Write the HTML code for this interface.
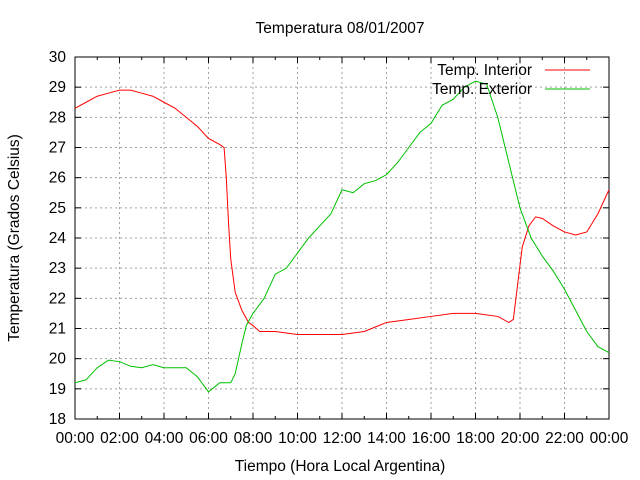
<!DOCTYPE html>
<html><head><meta charset="utf-8"><style>body{margin:0;background:#fff}svg{display:block;font-family:"Liberation Sans",sans-serif}</style></head>
<body>
<svg id="c" width="640" height="480"></svg>
<script>
const yTicks=[18,19,20,21,22,23,24,25,26,27,28,29,30];
const xTicks=["00:00","02:00","04:00","06:00","08:00","10:00","12:00","14:00","16:00","18:00","20:00","22:00","00:00"];
const tInt=[0,0.5,1,1.5,2,2.5,3,3.5,4,4.5,5,5.5,6,6.5,6.7,6.8,6.9,7.0,7.2,7.5,7.8,8,8.3,9,10,11,12,13,14,15,16,17,18,19,19.5,19.7,19.9,20.1,20.4,20.7,21,21.5,22,22.5,23,23.5,24];
const vInt=[28.3,28.5,28.7,28.8,28.9,28.9,28.8,28.7,28.5,28.3,28.0,27.7,27.3,27.1,27.0,26.0,24.5,23.3,22.2,21.6,21.2,21.1,20.9,20.9,20.8,20.8,20.8,20.9,21.2,21.3,21.4,21.5,21.5,21.4,21.2,21.3,22.5,23.7,24.4,24.7,24.65,24.4,24.2,24.1,24.2,24.8,25.6];
const tExt=[0,0.5,1,1.5,2,2.5,3,3.5,4,5,5.5,6,6.5,7,7.2,7.5,7.7,8,8.5,9,9.5,10,10.5,11,11.5,12,12.5,13,13.5,14,14.5,15,15.5,16,16.5,17,17.5,18,18.5,19,19.5,20,20.5,21,21.5,22,22.5,23,23.5,24];
const vExt=[19.2,19.3,19.7,19.95,19.9,19.75,19.7,19.8,19.7,19.7,19.4,18.9,19.2,19.2,19.5,20.5,21.1,21.5,22.0,22.8,23.0,23.5,24.0,24.4,24.8,25.6,25.5,25.8,25.9,26.1,26.5,27.0,27.5,27.8,28.4,28.6,29.0,29.2,29.1,28.0,26.5,25.0,24.0,23.4,22.9,22.3,21.6,20.9,20.4,20.2];
const L=75,R=609,T=57,B=419;
const X=h=>L+(R-L)*h/24, Y=v=>B-(B-T)*(v-18)/12;
const s=document.getElementById('c'),NS="http://www.w3.org/2000/svg";
function mk(tag,a,txt){const e=document.createElementNS(NS,tag);for(const k in a)e.setAttribute(k,a[k]);if(txt!=null)e.textContent=txt;s.appendChild(e);return e;}
const FS=15.5;
yTicks.forEach(v=>{const y=Y(v);
 if(v>18&&v<30){const g=mk('line',{x1:L,x2:R,y1:y,y2:y,stroke:'#a0a0a0','stroke-dasharray':'2,3'});}
 const t=mk('text',{x:66,y:y+5,'text-anchor':'end','font-size':FS},v);
 mk('line',{x1:L,x2:L+6,y1:y,y2:y,stroke:'#000'});mk('line',{x1:R,x2:R-6,y1:y,y2:y,stroke:'#000'});});
xTicks.forEach((lb,i)=>{const x=X(i*2);
 if(i>0&&i<12){const g=mk('line',{x1:x,x2:x,y1:T,y2:B,stroke:'#a0a0a0','stroke-dasharray':'2,3'});}
 const t=mk('text',{x:x,y:443,'text-anchor':'middle','font-size':FS},lb);
 mk('line',{x1:x,x2:x,y1:B,y2:B-6,stroke:'#000'});mk('line',{x1:x,x2:x,y1:T,y2:T+6,stroke:'#000'});
 if(i<12){const xm=X(i*2+1);mk('line',{x1:xm,x2:xm,y1:B,y2:B-3,stroke:'#000'});mk('line',{x1:xm,x2:xm,y1:T,y2:T+3,stroke:'#000'});}});
const fr=mk('rect',{x:L,y:T,width:R-L,height:B-T,fill:'none',stroke:'#000'});
function line(ts,vs){let d='M'+X(ts[0])+','+Y(vs[0]);for(let i=1;i<ts.length;i++){d+='L'+X(ts[i])+','+Y(vs[i]);}return d;}
const p1=mk('path',{d:line(tInt,vInt),fill:'none',stroke:'#ff0000','stroke-width':1});
const p2=mk('path',{d:line(tExt,vExt),fill:'none',stroke:'#00c000','stroke-width':1});
const lt=mk('text',{x:532,y:75,'text-anchor':'end','font-size':FS},'Temp. Interior');
const ll=mk('line',{x1:545,x2:590,y1:70,y2:70,stroke:'#ff0000'});
const lt2=mk('text',{x:532,y:94,'text-anchor':'end','font-size':FS},'Temp. Exterior');
const ll2=mk('line',{x1:545,x2:590,y1:89,y2:89,stroke:'#00c000'});
const ti=mk('text',{x:340,y:33,'text-anchor':'middle','font-size':FS},'Temperatura 08/01/2007');
const xt=mk('text',{x:340,y:471,'text-anchor':'middle','font-size':FS},'Tiempo (Hora Local Argentina)');
const yt=mk('text',{x:0,y:0,'text-anchor':'middle','font-size':FS,transform:'translate(19,238) rotate(-90)'},'Temperatura (Grados Celsius)');
</script>
</body></html>
